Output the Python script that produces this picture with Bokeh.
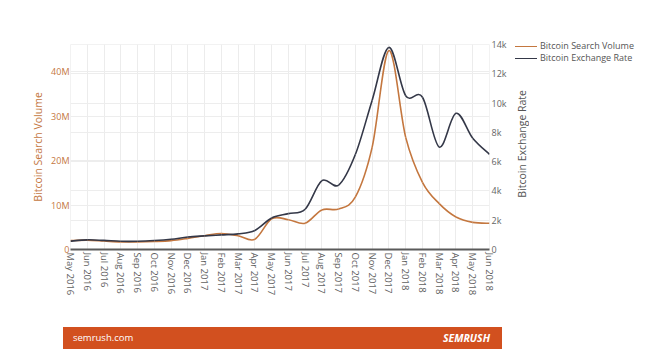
import math
from bokeh.plotting import figure
from bokeh.layouts import column, row
from bokeh.models import (Range1d, LinearAxis, FixedTicker, Grid, ColumnDataSource, Div)
from bokeh.embed import file_html
from bokeh.resources import INLINE

# ---- data ----
months = ["May 2016", "Jun 2016", "Jul 2016", "Aug 2016", "Sep 2016", "Oct 2016",
          "Nov 2016", "Dec 2016", "Jan 2017", "Feb 2017", "Mar 2017", "Apr 2017",
          "May 2017", "Jun 2017", "Jul 2017", "Aug 2017", "Sep 2017", "Oct 2017",
          "Nov 2017", "Dec 2017", "Jan 2018", "Feb 2018", "Mar 2018", "Apr 2018",
          "May 2018", "Jun 2018"]
search_volume = [2.0e6, 2.1e6, 1.9e6, 1.7e6, 1.7e6, 1.8e6, 2.0e6, 2.5e6, 3.1e6, 3.6e6,
                 3.1e6, 2.3e6, 6.9e6, 6.7e6, 5.9e6, 8.9e6, 9.1e6, 11.8e6, 23.0e6, 44.7e6,
                 25.2e6, 15.1e6, 10.3e6, 7.3e6, 6.1e6, 5.9e6]
exchange_rate = [570, 660, 620, 560, 560, 610, 700, 850, 930, 1000, 1070, 1300,
                 2150, 2450, 2750, 4700, 4400, 6500, 10200, 13800, 10500, 10400,
                 7000, 9300, 7600, 6500]
left_ticks = [0, 10e6, 20e6, 30e6, 40e6]
left_tick_labels = ["0", "10M", "20M", "30M", "40M"]
right_ticks = [0, 2000, 4000, 6000, 8000, 10000, 12000, 14000]
right_tick_labels = ["0", "2k", "4k", "6k", "8k", "10k", "12k", "14k"]
series_names = ["Bitcoin Search Volume", "Bitcoin Exchange Rate"]
footer_left = "semrush.com"
footer_right = "SEMRUSH"

ORANGE = "#c4773f"
DARK = "#343848"
FOOTER = "#d2501f"
FONT = "Open Sans"
series_colors = [ORANGE, DARK]

x = list(range(len(months)))


def bezier_source(xs, ys, t=1.0):
    n = len(xs)
    d = dict(x0=[], y0=[], x1=[], y1=[], cx0=[], cy0=[], cx1=[], cy1=[])
    for i in range(n - 1):
        p0 = (xs[max(i - 1, 0)], ys[max(i - 1, 0)])
        p1 = (xs[i], ys[i])
        p2 = (xs[i + 1], ys[i + 1])
        p3 = (xs[min(i + 2, n - 1)], ys[min(i + 2, n - 1)])
        d["x0"].append(p1[0]); d["y0"].append(p1[1])
        d["x1"].append(p2[0]); d["y1"].append(p2[1])
        d["cx0"].append(p1[0] + (p2[0] - p0[0]) / 6 * t)
        d["cy0"].append(p1[1] + (p2[1] - p0[1]) / 6 * t)
        d["cx1"].append(p2[0] - (p3[0] - p1[0]) / 6 * t)
        d["cy1"].append(p2[1] - (p3[1] - p1[1]) / 6 * t)
    return ColumnDataSource(d)


p = figure(frame_width=419, frame_height=205, output_backend="svg", toolbar_location=None,
           x_range=Range1d(0, len(months) - 1), y_range=Range1d(0, 46.07e6),
           min_border_left=70, min_border_right=26, min_border_top=44,
           min_border_bottom=69, background_fill_color="white",
           border_fill_color="white")
p.outline_line_color = "#f2f2f2"
p.extra_y_ranges = {"rate": Range1d(0, 14000)}

# axes
p.xaxis.ticker = FixedTicker(ticks=x)
p.xaxis.major_label_overrides = {i: m for i, m in enumerate(months)}
p.xaxis.major_label_orientation = -math.pi / 2
p.xaxis.major_label_text_font = FONT
p.xaxis.major_label_text_font_size = "9.5px"
p.xaxis.major_label_text_color = "#5f5f5f"
p.xaxis.axis_line_color = "#5a5a5a"
p.xaxis.axis_line_width = 2
p.xaxis.major_tick_line_color = None
p.xaxis.minor_tick_line_color = None
p.xaxis.major_tick_out = 0
p.xaxis.major_tick_in = 0
p.xaxis.major_label_standoff = 3

p.yaxis.ticker = FixedTicker(ticks=left_ticks)
p.yaxis.major_label_overrides = {t: l for t, l in zip(left_ticks, left_tick_labels)}
p.yaxis.axis_label = series_names[0]
p.yaxis.axis_label_text_color = ORANGE
p.yaxis.axis_label_text_font = FONT
p.yaxis.axis_label_text_font_style = "normal"
p.yaxis.axis_label_text_font_size = "10.5px"
p.yaxis.axis_label_standoff = 3
p.yaxis.major_label_text_color = ORANGE
p.yaxis.major_label_text_font = FONT
p.yaxis.major_label_text_font_size = "9px"
p.yaxis.axis_line_color = None
p.yaxis.major_tick_line_color = None
p.yaxis.minor_tick_line_color = None
p.yaxis.major_tick_out = 0
p.yaxis.major_tick_in = 0
p.yaxis.major_label_standoff = 1

raxis = LinearAxis(y_range_name="rate", ticker=FixedTicker(ticks=right_ticks))
raxis.major_label_overrides = {t: l for t, l in zip(right_ticks, right_tick_labels)}
raxis.major_label_text_color = "#666666"
raxis.major_label_text_font = FONT
raxis.major_label_text_font_size = "9px"
raxis.axis_line_color = None
raxis.major_tick_line_color = None
raxis.minor_tick_line_color = None
raxis.major_tick_out = 0
raxis.major_tick_in = 0
raxis.major_label_standoff = 2
p.add_layout(raxis, "right")

# grids
p.xgrid.ticker = FixedTicker(ticks=x)
p.xgrid.grid_line_color = "#ececec"
p.ygrid.grid_line_color = "#ededed"
p.add_layout(Grid(dimension=1, ticker=FixedTicker(ticks=right_ticks), y_range_name="rate",
                  grid_line_color="#ededed"))

# series
p.bezier(x0="x0", y0="y0", x1="x1", y1="y1", cx0="cx0", cy0="cy0", cx1="cx1", cy1="cy1",
         source=bezier_source(x, search_volume), line_color=ORANGE, line_width=1.6)
p.bezier(x0="x0", y0="y0", x1="x1", y1="y1", cx0="cx0", cy0="cy0", cx1="cx1", cy1="cy1",
         source=bezier_source(x, exchange_rate), line_color=DARK, line_width=1.6,
         y_range_name="rate")

# legend + right axis title (HTML, to the right of the plot like the original)
rows_html = "".join(
    f'<div style="height:12px;line-height:12px;">'
    f'<span style="display:inline-block;width:22px;height:0;border-top:1.6px solid {c};'
    f'vertical-align:middle;margin-right:3px;"></span>{n}</div>'
    for n, c in zip(series_names, series_colors))
axis_title_html = (
    f'<div style="position:absolute;left:0;top:0;width:14px;height:208px;display:flex;'
    f'align-items:center;justify-content:center;">'
    f'<span style="writing-mode:vertical-rl;transform:rotate(180deg);font-size:10.5px;'
    f'color:#555555;white-space:nowrap;">{series_names[1]}</span></div>')
side = Div(
    text=(f'<div style="position:relative;width:135px;height:210px;font-family:\'{FONT}\';'
          f'font-size:9px;color:#555555;white-space:nowrap;">'
          f'{axis_title_html}<div style="position:absolute;left:0;top:0;">{rows_html}</div>'
          f'</div>'),
    width=135, height=212, margin=(40, 0, 0, 0))

# footer band
footer = Div(
    text=(f'<div style="background:{FOOTER};width:439px;height:22px;box-sizing:border-box;'
          f'padding:0 12px 0 10px;display:flex;align-items:center;justify-content:space-between;'
          f'font-family:\'{FONT}\';color:white;">'
          f'<span style="font-size:9.5px;">{footer_left}</span>'
          f'<span style="font-size:10.5px;font-weight:bold;font-style:italic;">{footer_right}</span>'
          f'</div>'),
    width=439, height=22, margin=(9, 0, 0, 63))

layout = column(row(p, side, spacing=0), footer, spacing=0)
open("out.html", "w").write(file_html(layout, INLINE))
